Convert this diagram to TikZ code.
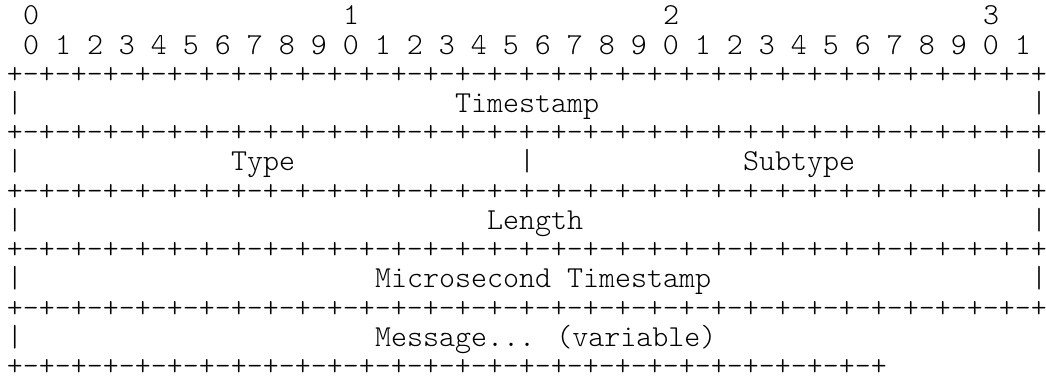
\documentclass[tikz,border=0pt]{standalone}
\usepackage{fontspec}
\newfontfamily\asciimono{lmmonolt10-regular.otf}
\def\fourbits{+-+-+-+-}
\begin{document}
\begin{tikzpicture}[x=0.75pt,y=-0.75pt,
  txt/.style={anchor=base west,inner sep=0pt,outer sep=0pt,text=black,
    font=\asciimono\fontsize{22.857}{24}\selectfont}]
\useasboundingbox (0,0) rectangle (1046,381);
% header digits
\foreach \d/\c in {0/1,1/21,2/41,3/61}
  \node[txt] (h\d) at ({7+16*\c},25) {\d};
\node[txt] (bits) at ({7+16*1},{25+29.2*1}) {0 1 2 3 4 5 6 7 8 9 0 1 2 3 4 5 6 7 8 9 0 1 2 3 4 5 6 7 8 9 0 1};
% borders
\foreach \k/\n in {2/b1,4/b2,6/b3,8/b4,10/b5}
  \node[txt] (\n) at (7,{25+29.2*\k}) {\fourbits\fourbits\fourbits\fourbits\fourbits\fourbits\fourbits\fourbits+};
\node[txt] (b6) at (7,{25+29.2*12}) {\fourbits\fourbits\fourbits\fourbits\fourbits\fourbits+-+-+-+};
% left bars
\foreach \k in {3,5,7,9,11}
  \node[txt] (lbar\k) at (7,{25+29.2*\k}) {|};
% right bars
\foreach \k in {3,5,7,9}
  \node[txt] (rbar\k) at ({7+16*64},{25+29.2*\k}) {|};
\node[txt] (mbar) at ({7+16*32},{25+29.2*5}) {|};
% labels
\node[txt] (timestamp) at ({7+16*28},{25+29.2*3}) {Timestamp};
\node[txt] (type) at ({7+16*14},{25+29.2*5}) {Type};
\node[txt] (subtype) at ({7+16*46},{25+29.2*5}) {Subtype};
\node[txt] (length) at ({7+16*30},{25+29.2*7}) {Length};
\node[txt] (micro) at ({7+16*23},{25+29.2*9}) {Microsecond Timestamp};
\node[txt] (message) at ({7+16*23},{25+29.2*11}) {Message... (variable)};
\end{tikzpicture}
\end{document}
